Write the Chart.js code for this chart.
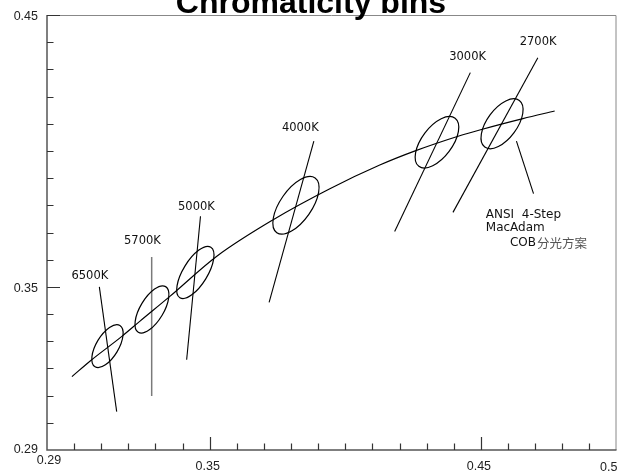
<!DOCTYPE html>
<html>
<head>
<meta charset="utf-8">
<script src="https://cdn.jsdelivr.net/npm/chart.js@4.4.1/dist/chart.umd.min.js"></script>
<style>
  html, body { margin: 0; padding: 0; background: #fff; }
  canvas { display: block; }
</style>
</head>
<body>
<canvas id="chartBins" width="617" height="476"></canvas>
<script>
// Planckian locus (CIE x, y)
const locusX = [0.2992, 0.3065, 0.3175, 0.3243, 0.3353, 0.3525, 0.3734, 0.3943, 0.4127, 0.4260, 0.4416, 0.4502, 0.4655, 0.4772];
const locusY = [0.3170, 0.3232, 0.3317, 0.3374, 0.3465, 0.3612, 0.3747, 0.3861, 0.3948, 0.4001, 0.4054, 0.4079, 0.4119, 0.4147];

// CCT bins
const cctNames = ['6500K', '5700K', '5000K', '4000K', '3000K', '2700K'];

// 4-step MacAdam ellipses: centre, semi-axes, tilt (deg)
const ellX = [0.3123, 0.3287, 0.3447, 0.3818, 0.4338, 0.4578];
const ellY = [0.3282, 0.3417, 0.3553, 0.3800, 0.4032, 0.4100];
const ellA = [0.0089, 0.0098, 0.0109, 0.0123, 0.0111, 0.0107];
const ellB = [0.0041, 0.0043, 0.0045, 0.0058, 0.0056, 0.0055];
const ellAngle = [59, 59, 58.5, 55, 53, 53.5];

// isotherm lines (two ends each)
const isoX1 = [0.3093, 0.3286, 0.3466, 0.3884, 0.4461, 0.4710];
const isoY1 = [0.3500, 0.3610, 0.3760, 0.4036, 0.4288, 0.4343];
const isoX2 = [0.3157, 0.3286, 0.3415, 0.3719, 0.4182, 0.4397];
const isoY2 = [0.3041, 0.3099, 0.3232, 0.3443, 0.3704, 0.3774];

// where each CCT label sits
const labelX = [0.3058, 0.3252, 0.3451, 0.3834, 0.4451, 0.4711];
const labelY = [0.3541, 0.3668, 0.3795, 0.4083, 0.4346, 0.4400];

// pointer from the 2700K ellipse to the note
const pointerX = [0.4631, 0.4694];
const pointerY = [0.4036, 0.3843];

// note text
const noteLines = ['ANSI  4-Step', 'MacAdam', 'COB'];
const noteCjk = '分光方案';
const noteX = [0.4518, 0.4518, 0.4607];
const noteY = [0.3766, 0.3718, 0.3663];

// axis labels
const xTickLabels = [0.29, 0.35, 0.45, 0.5];
const yTickLabels = [0.29, 0.35, 0.45];
const majorTicks = [0.35, 0.45];

const toPts = (xs, ys) => xs.map((x, i) => ({ x: x, y: ys[i] }));

const lineSet = (data, color, width) => ({
    data: data,
    showLine: true,
    borderColor: color,
    borderWidth: width,
    pointRadius: 0,
    pointHoverRadius: 0,
    tension: 0
});

const datasets = [];
// locus
const locus = lineSet(toPts(locusX, locusY), '#000', 1.2);
locus.cubicInterpolationMode = 'monotone';
datasets.push(locus);
// isotherms (5700K is drawn in grey)
cctNames.forEach((n, i) => {
    datasets.push(lineSet([{ x: isoX1[i], y: isoY1[i] }, { x: isoX2[i], y: isoY2[i] }],
        n === '5700K' ? '#7a7a7a' : '#000', n === '5700K' ? 1.5 : 1.1));
});
datasets.push(lineSet(toPts(pointerX, pointerY), '#000', 1.1));

const isMajor = v => majorTicks.some(m => Math.abs(m - v) < 1e-6);

// ellipses, ticks, labels, title
const decor = {
    id: 'decor',
    afterDatasetsDraw(chart) {
        const ctx = chart.ctx;
        const sx = chart.scales.x, sy = chart.scales.y;
        const area = chart.chartArea;
        ctx.save();

        // ellipses
        ctx.strokeStyle = '#000';
        ctx.lineWidth = 1.2;
        ellX.forEach((ex, i) => {
            const cx = sx.getPixelForValue(ex);
            const cy = sy.getPixelForValue(ellY[i]);
            const unit = (sx.getPixelForValue(ex + 0.01) - cx + cy - sy.getPixelForValue(ellY[i] + 0.01)) / 2 / 0.01;
            ctx.beginPath();
            ctx.ellipse(cx, cy, ellA[i] * unit, ellB[i] * unit, -ellAngle[i] * Math.PI / 180, 0, Math.PI * 2);
            ctx.stroke();
        });

        // frame
        ctx.strokeStyle = '#888';
        ctx.lineWidth = 1;
        ctx.beginPath();
        ctx.moveTo(area.left, area.top + 0.5);
        ctx.lineTo(area.right - 0.5, area.top + 0.5);
        ctx.lineTo(area.right - 0.5, area.bottom);
        ctx.stroke();
        ctx.strokeStyle = '#555';
        ctx.lineWidth = 1.5;
        ctx.beginPath();
        ctx.moveTo(area.left, area.top);
        ctx.lineTo(area.left, area.bottom);
        ctx.lineTo(area.right, area.bottom);
        ctx.stroke();

        // inward ticks
        ctx.strokeStyle = '#333';
        ctx.lineWidth = 1.2;
        ctx.beginPath();
        sx.ticks.forEach(t => {
            if (t.value <= sx.min + 1e-6 || t.value >= sx.max - 1e-6) return;
            const px = Math.round(sx.getPixelForValue(t.value)) + 0.5;
            const len = isMajor(t.value) ? 13 : 6.5;
            ctx.moveTo(px, area.bottom);
            ctx.lineTo(px, area.bottom - len);
        });
        sy.ticks.forEach(t => {
            if (t.value <= sy.min + 1e-6) return;
            const py = Math.round(sy.getPixelForValue(t.value)) + 0.5;
            const len = isMajor(t.value) ? 13 : 6.5;
            ctx.moveTo(area.left, py);
            ctx.lineTo(area.left + len, py);
        });
        ctx.stroke();

        // tick labels
        ctx.fillStyle = '#222';
        ctx.font = '12.5px "Liberation Sans", Arial, sans-serif';
        ctx.textBaseline = 'middle';
        ctx.textAlign = 'right';
        yTickLabels.forEach(v => {
            const py = sy.getPixelForValue(v);
            ctx.fillText(String(v), area.left - 9, v === 0.29 ? py : py + 2);
        });
        xTickLabels.forEach(v => {
            const px = sx.getPixelForValue(v);
            if (v === 0.29) {
                ctx.textAlign = 'center';
                ctx.fillText(String(v), px + 2, area.bottom + 11);
            } else if (v === 0.5) {
                ctx.textAlign = 'right';
                ctx.fillText(String(v), px + 1, area.bottom + 18);
            } else {
                ctx.textAlign = 'center';
                ctx.fillText(String(v), px - 2, area.bottom + 17);
            }
        });

        // CCT labels
        ctx.fillStyle = '#111';
        ctx.font = '11.5px "DejaVu Sans", sans-serif';
        ctx.textAlign = 'center';
        cctNames.forEach((n, i) => {
            ctx.fillText(n, sx.getPixelForValue(labelX[i]), sy.getPixelForValue(labelY[i]));
        });

        // note
        ctx.font = '12px "DejaVu Sans", sans-serif';
        ctx.textAlign = 'left';
        noteLines.forEach((s, i) => {
            ctx.fillText(s, sx.getPixelForValue(noteX[i]), sy.getPixelForValue(noteY[i]));
        });
        const cobEnd = sx.getPixelForValue(noteX[2]) + ctx.measureText(noteLines[2]).width + 1;
        ctx.fillStyle = '#555';
        ctx.font = '12.5px "Noto Sans CJK SC", sans-serif';
        ctx.fillText(noteCjk, cobEnd, sy.getPixelForValue(noteY[2]) + 0.5);

        // title, partly above the page
        ctx.fillStyle = '#000';
        ctx.font = 'bold 32px "Liberation Sans", Arial, sans-serif';
        ctx.textAlign = 'center';
        ctx.textBaseline = 'alphabetic';
        ctx.fillText('Chromaticity bins', 311, 13);

        ctx.restore();
    }
};

new Chart(document.getElementById('chartBins'), {
    type: 'scatter',
    data: { datasets: datasets },
    options: {
        responsive: false,
        animation: false,
        events: [],
        layout: { padding: { left: 47, top: 15, right: 0.5, bottom: 26 } },
        plugins: { legend: { display: false }, tooltip: { enabled: false }, title: { display: false } },
        scales: {
            x: {
                type: 'linear', min: 0.29, max: 0.5,
                ticks: { display: false, stepSize: 0.01, maxTicksLimit: 100 },
                grid: { display: false }, border: { display: false },
                afterFit: s => { s.height = 0; }
            },
            y: {
                type: 'linear', min: 0.29, max: 0.45,
                ticks: { display: false, stepSize: 0.01, maxTicksLimit: 100 },
                grid: { display: false }, border: { display: false },
                afterFit: s => { s.width = 0; }
            }
        }
    },
    plugins: [decor]
});
</script>
</body>
</html>
